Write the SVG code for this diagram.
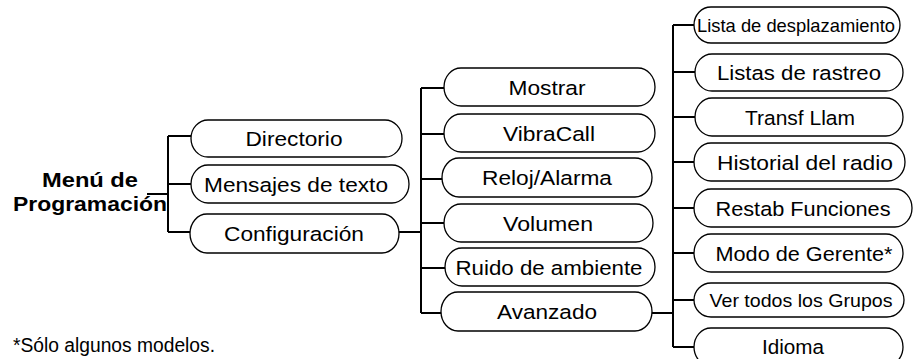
<svg xmlns="http://www.w3.org/2000/svg" width="914" height="359" viewBox="0 0 914 359">
<style>
.b{fill:#fff;stroke:#000;stroke-width:1.3}
.t{font-family:"Liberation Sans",Arial,Helvetica,sans-serif;font-size:20.5px;text-anchor:middle;fill:#000}
.s{font-size:19px}
.h{font-family:"Liberation Sans",Arial,Helvetica,sans-serif;font-size:20px;font-weight:bold;text-anchor:middle;fill:#000}
.f{font-family:"Liberation Sans",Arial,Helvetica,sans-serif;font-size:19.5px;fill:#000}
.c{fill:none;stroke:#000;stroke-width:2}
</style>
<rect width="914" height="359" fill="#fff"/>
<g id="connectors">
<path class="c" d="M147 194H168M168 136V232M168 136H191M168 184H191M168 232H190"/>
<path class="c" d="M399 232H421M421 88V313M421 88H444M421 134H444M421 179H442M421 223H444M421 268H445M421 313H441"/>
<path class="c" d="M652 313H673M673 25V347M673 25H694M673 72H695M673 117H695M673 162H694M673 208H694M673 253H694M673 300H694M673 347H694"/>
</g>
<g id="root">
<text class="h" x="90" y="187" textLength="96" lengthAdjust="spacingAndGlyphs">Menú de</text>
<text class="h" x="90" y="210.5" textLength="154" lengthAdjust="spacingAndGlyphs">Programación</text>
</g>
<g id="directorio"><rect class="b" x="191" y="120" width="211" height="37" rx="17" ry="18.5"/><text class="t" x="294" y="146" textLength="97" lengthAdjust="spacingAndGlyphs">Directorio</text></g>
<g id="mensajes"><rect class="b" x="191" y="165" width="218" height="38" rx="17" ry="19"/><text class="t" x="296" y="191.5" textLength="184" lengthAdjust="spacingAndGlyphs">Mensajes de texto</text></g>
<g id="configuracion"><rect class="b" x="190" y="214" width="209" height="39" rx="17" ry="19.5"/><text class="t" x="294" y="241" textLength="140" lengthAdjust="spacingAndGlyphs">Configuración</text></g>
<g id="mostrar"><rect class="b" x="444" y="68" width="211" height="38" rx="17" ry="19"/><text class="t" x="547" y="94.5" textLength="77" lengthAdjust="spacingAndGlyphs">Mostrar</text></g>
<g id="vibracall"><rect class="b" x="444" y="114" width="211" height="38" rx="17" ry="19"/><text class="t" x="549" y="140.5" textLength="92" lengthAdjust="spacingAndGlyphs">VibraCall</text></g>
<g id="reloj"><rect class="b" x="442" y="158" width="210" height="39" rx="17" ry="19.5"/><text class="t" x="547" y="185" textLength="130" lengthAdjust="spacingAndGlyphs">Reloj/Alarma</text></g>
<g id="volumen"><rect class="b" x="444" y="204" width="209" height="38" rx="17" ry="19"/><text class="t" x="548" y="230.5" textLength="90" lengthAdjust="spacingAndGlyphs">Volumen</text></g>
<g id="ruido"><rect class="b" x="445" y="248" width="210" height="38" rx="17" ry="19"/><text class="t" x="549" y="274.5" textLength="187" lengthAdjust="spacingAndGlyphs">Ruido de ambiente</text></g>
<g id="avanzado"><rect class="b" x="441" y="292" width="211" height="39" rx="17" ry="19.5"/><text class="t" x="547" y="319" textLength="100" lengthAdjust="spacingAndGlyphs">Avanzado</text></g>
<g id="lista"><rect class="b" x="694" y="7" width="206" height="36" rx="17" ry="18"/><text class="t s" x="796" y="32" textLength="198" lengthAdjust="spacingAndGlyphs">Lista de desplazamiento</text></g>
<g id="listas"><rect class="b" x="695" y="54" width="208" height="37" rx="17" ry="18.5"/><text class="t" x="799" y="80" textLength="164" lengthAdjust="spacingAndGlyphs">Listas de rastreo</text></g>
<g id="transf"><rect class="b" x="695" y="98" width="208" height="38" rx="17" ry="19"/><text class="t" x="800" y="124.5" textLength="110" lengthAdjust="spacingAndGlyphs">Transf Llam</text></g>
<g id="historial"><rect class="b" x="694" y="143" width="211" height="38" rx="17" ry="19"/><text class="t" x="805" y="169.5" textLength="176" lengthAdjust="spacingAndGlyphs">Historial del radio</text></g>
<g id="restab"><rect class="b" x="694" y="189" width="218" height="38" rx="17" ry="19"/><text class="t" x="803" y="215.5" textLength="175" lengthAdjust="spacingAndGlyphs">Restab Funciones</text></g>
<g id="modo"><rect class="b" x="694" y="234" width="209" height="38" rx="17" ry="19"/><text class="t" x="804" y="260.5" textLength="177" lengthAdjust="spacingAndGlyphs">Modo de Gerente*</text></g>
<g id="ver"><rect class="b" x="694" y="283" width="210" height="34" rx="17" ry="17"/><text class="t s" x="801" y="307" textLength="183" lengthAdjust="spacingAndGlyphs">Ver todos los Grupos</text></g>
<g id="idioma"><rect class="b" x="694" y="328" width="209" height="38" rx="17" ry="19"/><text class="t" x="793" y="354" textLength="62" lengthAdjust="spacingAndGlyphs">Idioma</text></g>
<text class="f" x="13" y="352" textLength="202" lengthAdjust="spacingAndGlyphs">*Sólo algunos modelos.</text>
</svg>
